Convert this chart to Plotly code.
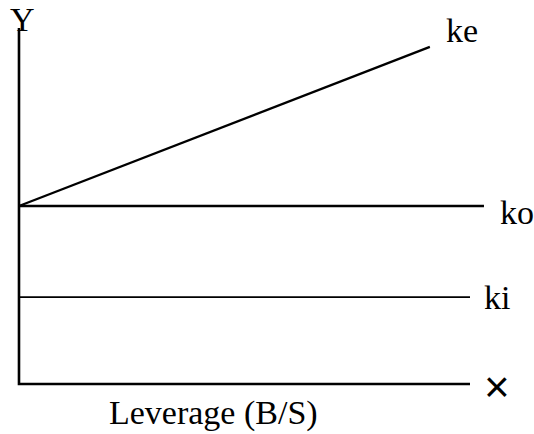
import plotly.graph_objects as go

# Data (abstract units: leverage on x, cost of capital on y)
ke_x = [0, 9.11]
ke_y = [5.0, 9.47]
ko_x = [0, 10.31]
ko_y = [5.0, 5.0]
ki_x = [0, 10.0]
ki_y = [2.44, 2.44]
axis_x = [0, 0, 10.0]
axis_y = [10.0, 0, 0]

fig = go.Figure()
fig.add_trace(go.Scatter(x=axis_x, y=axis_y, mode="lines",
                         line=dict(color="black", width=2.6), hoverinfo="skip"))
fig.add_trace(go.Scatter(x=ke_x, y=ke_y, mode="lines",
                         line=dict(color="black", width=2.3), name="ke"))
fig.add_trace(go.Scatter(x=ko_x, y=ko_y, mode="lines",
                         line=dict(color="black", width=2.3), name="ko"))
fig.add_trace(go.Scatter(x=ki_x, y=ki_y, mode="lines",
                         line=dict(color="black", width=1.7), name="ki"))

serif = dict(family="Liberation Serif", size=34, color="black")
labels = [
    ("Y", 0.07, 10.78, serif, "top"),
    ("ke", 9.82, 9.92, serif, "middle"),
    ("ko", 11.05, 4.83, serif, "middle"),
    ("ki", 10.6, 2.42, serif, "middle"),
    ("Leverage (B/S)", 4.32, -0.82, serif, "middle"),
    ("×", 10.6, -0.06, dict(family="Liberation Sans", size=44, color="black"), "middle"),
]
for t, x, y, f, ya in labels:
    fig.add_annotation(x=x, y=y, text=t, showarrow=False, font=f,
                       xanchor="center", yanchor=ya, borderpad=0)

fig.update_layout(
    width=534, height=434,
    margin=dict(l=0, r=0, t=0, b=0),
    paper_bgcolor="white", plot_bgcolor="white",
    showlegend=False,
    xaxis=dict(range=[-0.421, 11.419], visible=False, fixedrange=True),
    yaxis=dict(range=[-1.404, 10.787], visible=False, fixedrange=True),
)
fig.write_html("out.html", config={"displayModeBar": False},
               post_script="document.body.style.margin='0';")
